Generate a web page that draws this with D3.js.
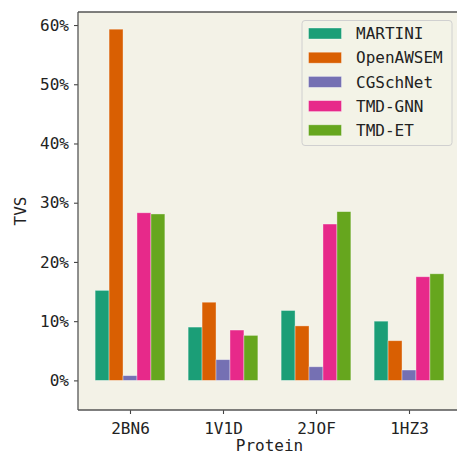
<!DOCTYPE html>
<html><head><meta charset="utf-8">
<script src="https://cdn.jsdelivr.net/npm/d3@7"></script>
<style>html,body{margin:0;padding:0;background:#fff;}svg{display:block;}</style>
</head><body>
<script>
const proteins = ["2BN6", "1V1D", "2JOF", "1HZ3"];
const methods = ["MARTINI", "OpenAWSEM", "CGSchNet", "TMD-GNN", "TMD-ET"];
const martini   = [15.2, 9.0, 11.8, 10.0];
const openawsem = [59.3, 13.2, 9.2, 6.7];
const cgschnet  = [0.8, 3.5, 2.3, 1.75];
const tmdgnn    = [28.3, 8.5, 26.4, 17.5];
const tmdet     = [28.1, 7.6, 28.5, 18.0];
const yTicks = [0, 10, 20, 30, 40, 50, 60];
const colors = ["#1b9e77", "#d95f02", "#7570b3", "#e7298a", "#66a61e"];
const series = [martini, openawsem, cgschnet, tmdgnn, tmdet];

const W = 457, H = 456;
const L = 78, R = 461, T = 12, B = 410;
const font = "'DejaVu Sans Mono', 'Liberation Mono', monospace";
const fs = 16;

const svg = d3.select("body").append("svg").attr("width", W).attr("height", H);
svg.append("rect").attr("x", L).attr("y", T).attr("width", R - L).attr("height", B - T).attr("fill", "#f3f2e7");

const y = d3.scaleLinear().domain([-5, 62.2]).range([B, T]);
const x = d3.scalePoint().domain(proteins).range([130, 409]);
const step = 93;
const barW = step * 0.15;

const g = svg.append("g");
series.forEach((vals, si) => {
  g.selectAll(null).data(vals).enter().append("rect")
    .attr("x", (d, i) => x(proteins[i]) - 2.5 * barW + si * barW)
    .attr("y", d => y(d))
    .attr("width", barW)
    .attr("height", d => y(0) - y(d))
    .attr("fill", colors[si])
    .attr("stroke", "rgba(255,255,255,0.45)")
    .attr("stroke-width", 0.8);
});

// axes
const yAxis = d3.axisLeft(y).tickValues(yTicks).tickFormat(d => d + "%").tickSize(4).tickPadding(5);
const ya = svg.append("g").attr("transform", `translate(${L},0)`).call(yAxis);
const xAxis = d3.axisBottom(x).tickSize(4).tickPadding(6);
const xa = svg.append("g").attr("transform", `translate(0,${B})`).call(xAxis);
[ya, xa].forEach(a => {
  a.select(".domain").remove();
  a.selectAll("line").attr("stroke", "#444").attr("stroke-width", 1.1);
  a.selectAll("text").attr("font-family", font).attr("font-size", fs).attr("fill", "#222");
});
xa.selectAll("text").attr("dy", "0.85em");

// spines
svg.append("line").attr("x1", L).attr("x2", L).attr("y1", T).attr("y2", B).attr("stroke", "#555").attr("stroke-width", 1.3);
svg.append("line").attr("x1", L).attr("x2", R).attr("y1", B).attr("y2", B).attr("stroke", "#555").attr("stroke-width", 1.3);
svg.append("line").attr("x1", L).attr("x2", R).attr("y1", T).attr("y2", T).attr("stroke", "#555").attr("stroke-width", 1.3);

// labels
svg.append("text").attr("transform", `translate(26,${(T + B) / 2}) rotate(-90)`)
  .attr("text-anchor", "middle").attr("font-family", font).attr("font-size", fs).attr("fill", "#222").text("TVS");
svg.append("text").attr("x", (L + R) / 2).attr("y", 451)
  .attr("text-anchor", "middle").attr("font-family", font).attr("font-size", fs).attr("fill", "#222").text("Protein");

// legend
const lg = svg.append("g");
lg.append("rect").attr("x", 302).attr("y", 20.5).attr("width", 150).attr("height", 125).attr("rx", 3)
  .attr("fill", "#f3f2e7").attr("fill-opacity", 0.8).attr("stroke", "#d0d0d0").attr("stroke-width", 1);
methods.forEach((m, i) => {
  const cy = 33.5 + i * 24.2;
  lg.append("rect").attr("x", 308.5).attr("y", cy - 5.5).attr("width", 33).attr("height", 11).attr("fill", colors[i])
    .attr("stroke", "rgba(255,255,255,0.45)").attr("stroke-width", 0.8);
  lg.append("text").attr("x", 356).attr("y", cy).attr("dy", "0.35em").attr("font-family", font)
    .attr("font-size", fs).attr("fill", "#222").text(m);
});
</script>
</body></html>
